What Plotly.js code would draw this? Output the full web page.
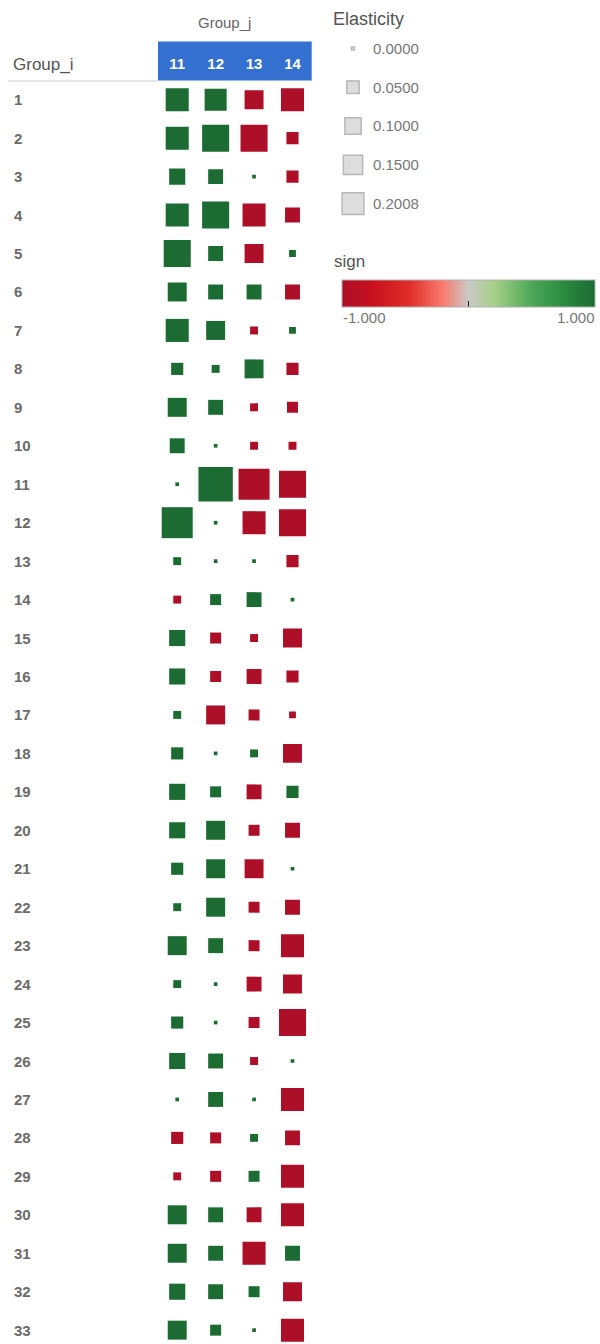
<!DOCTYPE html>
<html>
<head>
<meta charset="utf-8">
<script src="https://cdn.plot.ly/plotly-3.0.1.min.js"></script>
<style>html,body{margin:0;padding:0;background:#fff;}#chart{width:600px;height:1344px;}</style>
</head>
<body>
<div id="chart"></div>
<script>
// ---- data ----
var groupI = [1,2,3,4,5,6,7,8,9,10,11,12,13,14,15,16,17,18,19,20,21,22,23,24,25,26,27,28,29,30,31,32,33];
var groupJ = [11, 12, 13, 14];
// signed elasticity per Group_j column (sign = colour, |value| = square size)
var elast11 = [0.082,0.082,0.035,0.082,0.118,0.052,0.082,0.017,0.052,0.029,0.0001,0.160,0.005,-0.005,0.035,0.035,0.005,0.017,0.035,0.035,0.017,0.005,0.052,0.005,0.017,0.035,0.0001,-0.017,-0.005,0.052,0.052,0.035,0.052];
var elast12 = [0.074,0.118,0.029,0.118,0.029,0.029,0.052,0.005,0.029,0.0001,0.2008,0.0001,0.0001,0.013,-0.013,-0.013,-0.052,0.0001,0.013,0.052,0.052,0.052,0.029,0.0001,0.0001,0.029,0.029,-0.013,-0.013,0.029,0.029,0.029,0.013];
var elast13 = [-0.052,-0.118,0.0001,-0.082,-0.052,0.029,-0.005,0.052,-0.005,-0.005,-0.160,-0.082,0.0001,0.029,-0.005,-0.029,-0.013,0.005,-0.029,-0.013,-0.052,-0.013,-0.013,-0.029,-0.013,-0.005,0.0001,0.005,0.013,-0.029,-0.082,0.013,0.0001];
var elast14 = [-0.082,-0.017,-0.017,-0.029,0.003,-0.029,0.003,-0.017,-0.013,-0.005,-0.118,-0.118,-0.017,0.0001,-0.052,-0.017,-0.003,-0.052,0.017,-0.029,0.0001,-0.029,-0.082,-0.052,-0.118,0.0001,-0.082,-0.029,-0.082,-0.082,0.029,-0.052,-0.082];
var sizeLegendValues = [0.0000, 0.0500, 0.1000, 0.1500, 0.2008];
var sizeLegendLabels = ['0.0000', '0.0500', '0.1000', '0.1500', '0.2008'];
var signTickLabels = ['-1.000', '1.000'];

// ---- build ----
var W = 600, H = 1344;
var FONT = 'Liberation Sans, Arial, sans-serif';
function side(v){ return 3 + 70 * Math.sqrt(Math.abs(v)); }
function legendSide(v){ return 3 + 42 * Math.sqrt(Math.abs(v)); }
var cols = [elast11, elast12, elast13, elast14];
var xs = [], ys = [], sz = [], sg = [], tx = [];
for (var c = 0; c < groupJ.length; c++) {
  for (var r = 0; r < groupI.length; r++) {
    var v = cols[c][r];
    xs.push(groupJ[c]); ys.push(groupI[r]);
    sz.push(side(v)); sg.push(v < 0 ? -1 : 1);
    tx.push('Group_i ' + groupI[r] + ', Group_j ' + groupJ[c] + ': ' + v);
  }
}
var colorscale = [[0,'#ad0f28'],[0.12,'#c8101e'],[0.27,'#e0302a'],[0.4,'#f97c6f'],[0.5,'#c9c9c5'],[0.6,'#a8d088'],[0.75,'#4ca858'],[0.88,'#2a8a40'],[1,'#1b6b33']];

var pxX0 = 158, pxX1 = 311.7, pxTop = 80.5;

var marks = {
  type: 'scatter', mode: 'markers', x: xs, y: ys, text: tx, hoverinfo: 'text',
  xaxis: 'x', yaxis: 'y',
  marker: {
    symbol: 'square', size: sz, opacity: 1, color: sg, cmin: -1, cmax: 1, colorscale: colorscale,
    line: {width: 0},
    colorbar: {
      orientation: 'h', x: (342 + 595) / 2 / W, xanchor: 'center', y: 1 - 280 / H, yanchor: 'top',
      len: 253, lenmode: 'pixels', thickness: 27, thicknessmode: 'pixels',
      xpad: 0, ypad: 0, outlinecolor: '#b0b0b0', outlinewidth: 1,
      tickvals: [0], ticktext: [''], ticks: 'inside', ticklen: 6, tickcolor: '#222', tickwidth: 1.5,
      showticklabels: false, title: {text: ''}
    }
  },
  showlegend: false
};

var legendTrace = {
  type: 'scatter', mode: 'markers', xaxis: 'x2', yaxis: 'y2',
  x: sizeLegendValues.map(function(){ return 0.5; }),
  y: sizeLegendValues.map(function(v, i){ return i; }),
  marker: {symbol: 'square', size: sizeLegendValues.map(legendSide), opacity: 1, color: '#dddddd', line: {color: '#b8b8b8', width: 1.5}},
  hoverinfo: 'skip', showlegend: false
};

var annotations = [];
groupI.forEach(function(g){
  annotations.push({xref: 'paper', x: 12 / W, xanchor: 'left', yref: 'y', y: g, yanchor: 'middle',
    text: String(g), showarrow: false, font: {family: FONT, size: 15, color: '#6a6a6a', weight: 'bold'}});
});
annotations.push({xref: 'paper', x: 11 / W, xanchor: 'left', yref: 'paper', y: 1 - 64 / H, yanchor: 'middle',
  text: 'Group_i', showarrow: false, font: {family: FONT, size: 17, color: '#555'}});
annotations.push({xref: 'paper', x: 224 / W, xanchor: 'center', yref: 'paper', y: 1 - 22 / H, yanchor: 'middle',
  text: 'Group_j', showarrow: false, font: {family: FONT, size: 15, color: '#666'}});
annotations.push({xref: 'paper', x: 331 / W, xanchor: 'left', yref: 'paper', y: 1 - 19 / H, yanchor: 'middle',
  text: 'Elasticity', showarrow: false, font: {family: FONT, size: 18, color: '#555'}});
sizeLegendLabels.forEach(function(t, i){
  annotations.push({xref: 'paper', x: 371 / W, xanchor: 'left', yref: 'y2', y: i, yanchor: 'middle',
    text: t, showarrow: false, font: {family: FONT, size: 15, color: '#777'}});
});
annotations.push({xref: 'paper', x: 332 / W, xanchor: 'left', yref: 'paper', y: 1 - 262 / H, yanchor: 'middle',
  text: 'sign', showarrow: false, font: {family: FONT, size: 17, color: '#555'}});
annotations.push({xref: 'paper', x: 341 / W, xanchor: 'left', yref: 'paper', y: 1 - 318 / H, yanchor: 'middle',
  text: signTickLabels[0], showarrow: false, font: {family: FONT, size: 15, color: '#777'}});
annotations.push({xref: 'paper', x: 597 / W, xanchor: 'right', yref: 'paper', y: 1 - 318 / H, yanchor: 'middle',
  text: signTickLabels[1], showarrow: false, font: {family: FONT, size: 15, color: '#777'}});

var layout = {
  width: W, height: H, margin: {l: 0, r: 0, t: 0, b: 0, pad: 0},
  paper_bgcolor: '#ffffff', plot_bgcolor: 'rgba(0,0,0,0)',
  showlegend: false,
  xaxis: {domain: [pxX0 / W, pxX1 / W], range: [10.5, 14.5], side: 'top', tickvals: groupJ, ticktext: groupJ.map(String),
    ticks: '', showgrid: false, zeroline: false, showline: false, ticklabelstandoff: 8,
    tickfont: {family: FONT, size: 15, color: '#ffffff', weight: 'bold'}, fixedrange: true},
  yaxis: {domain: [0, 1 - pxTop / H], range: [groupI.length + 0.36, 0.5], showticklabels: false, ticks: '',
    showgrid: false, zeroline: false, showline: false, fixedrange: true},
  xaxis2: {domain: [333 / W, 373 / W], range: [0, 1], visible: false, fixedrange: true, anchor: 'y2'},
  yaxis2: {domain: [1 - 223 / H, 1 - 29 / H], range: [4.5, -0.5], visible: false, fixedrange: true, anchor: 'x2'},
  shapes: [
    {type: 'rect', layer: 'below', xref: 'paper', yref: 'paper', x0: pxX0 / W, x1: pxX1 / W, y0: 1 - pxTop / H, y1: 1 - 41.5 / H,
      fillcolor: '#3470cf', line: {width: 0}},
    {type: 'line', layer: 'below', xref: 'paper', yref: 'paper', x0: 8 / W, x1: pxX0 / W, y0: 1 - 81 / H, y1: 1 - 81 / H,
      line: {color: '#cfcfcf', width: 1}}
  ],
  annotations: annotations
};

Plotly.newPlot('chart', [marks, legendTrace], layout, {displayModeBar: false, staticPlot: true});
</script>
</body>
</html>
